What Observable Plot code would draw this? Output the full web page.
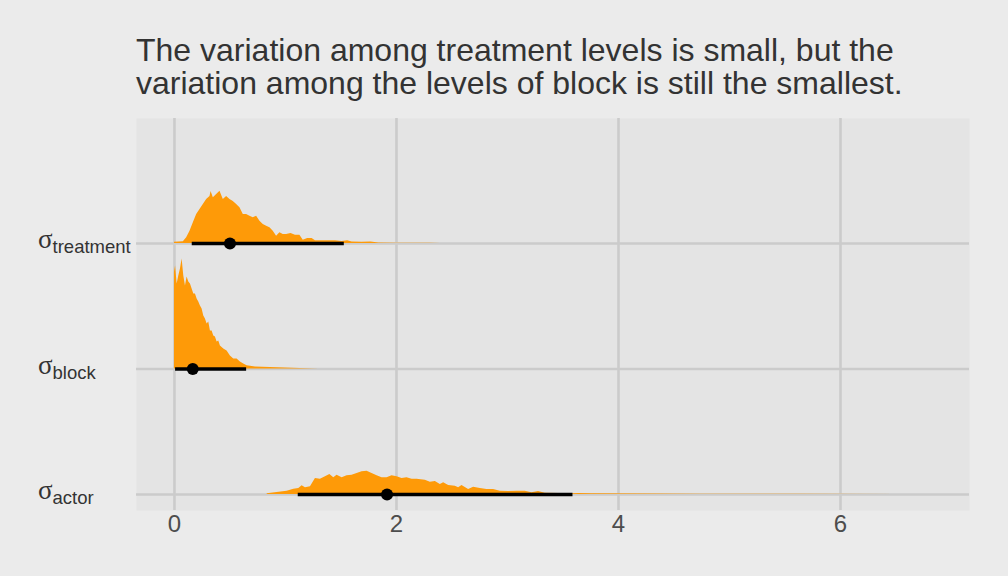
<!DOCTYPE html>
<html><head><meta charset="utf-8">
<script src="https://cdn.jsdelivr.net/npm/d3@7"></script>
<script src="https://cdn.jsdelivr.net/npm/@observablehq/plot@0.6"></script>
<style>
body{margin:0;background:#EBEBEB;width:1008px;height:576px;overflow:hidden;position:relative;font-family:"Liberation Sans",Arial,sans-serif}
#title{position:absolute;left:136px;top:34px;font-size:32px;line-height:33px;color:#333;white-space:nowrap}
#chart{position:absolute;left:0;top:110px}
</style></head><body>
<div id="title">The variation among treatment levels is small, but the<br>variation among the levels of block is still the smallest.</div>
<div id="chart"></div>
<script>
// parameters (bottom to top)
const params = ["actor", "block", "treatment"];
const rowPos = [0, 1, 2];

// density profiles (relative heights)
const treatmentX = [0.00,0.08,0.11,0.14,0.17,0.20,0.23,0.26,0.29,0.32,0.33,0.35,0.38,0.41,0.44,0.47,0.50,0.53,0.56,0.59,0.62,0.65,0.68,0.71,0.74,0.77,0.80,0.83,0.86,0.89,0.92,0.95,0.98,1.01,1.05,1.09,1.13,1.16,1.20,1.24,1.27,1.36,1.45,1.51,1.56,1.60,1.69,1.77,1.84,2.00,2.30,2.40];
const treatmentH = [1.3,1.7,5.7,12.3,20.7,29,34,39,44,47,52,45.7,49,52.3,44,47,44,42,39,35.7,29,29,27.3,25.7,27.3,22.3,19,17.3,15.7,12.3,7.3,10.7,9,9,10,8.3,8.3,3.3,5,5,2.7,2.7,2.7,2,2.7,1.5,1.3,1.5,0.5,0.3,0.2,0];

const blockX = [0.000,0.010,0.024,0.039,0.054,0.069,0.084,0.099,0.114,0.129,0.144,0.159,0.174,0.189,0.204,0.219,0.234,0.249,0.264,0.279,0.294,0.309,0.324,0.339,0.354,0.369,0.384,0.399,0.414,0.444,0.474,0.504,0.534,0.564,0.594,0.624,0.654,0.73,0.86,1.00,1.13,1.30];
const blockH = [97,103,85,93,100,110,93,83,92,87,85,80,75,75,70,67,63,60,53,50,45,47,38,38,33,32,27,28,23,20,18,13,10,10,7,5,3.3,2,1.5,1,0.5,0];

const actorX = [0.835,0.925,1.015,1.075,1.12,1.15,1.18,1.225,1.27,1.315,1.36,1.40,1.435,1.465,1.51,1.555,1.60,1.645,1.69,1.735,1.78,1.825,1.87,1.915,1.96,2.005,2.05,2.095,2.14,2.185,2.26,2.305,2.35,2.395,2.425,2.47,2.53,2.56,2.59,2.65,2.695,2.755,2.815,2.875,2.935,3.01,3.09,3.16,3.22,3.28,3.34,3.46,3.58,3.64,3.76,4.29,4.74,5.19,5.64,6.54,6.8];
const actorH = [0.7,2,3.3,5.3,6,8.7,6.7,7.7,16,15.3,17.7,20,16.7,19.3,16.7,18.7,19.3,21,22.7,23.3,21,18.7,16.7,16.7,18.7,17.7,16,16.7,15.3,15.3,14.3,12.3,13,10,11.7,9,8.3,6.7,9,5,7.3,6,5,5,3.3,3,3.3,3.3,1.7,3,1.3,1,0.7,1,0.7,0.5,0.4,0.2,0.2,0.1,0];

// point intervals: mode and interval bounds
const intervalLo   = [1.115, 0.01, 0.16];
const intervalMode = [1.915, 0.165, 0.50];
const intervalHi   = [3.59, 0.65, 1.53];

const xTicks = [0, 2, 4, 6];

const scaleK = 1 / 125.5; // relative height -> row units

const profiles = {actor: [actorX, actorH], block: [blockX, blockH], treatment: [treatmentX, treatmentH]};
const dens = [];
params.forEach((p, i) => {
  const [xs, hs] = profiles[p];
  xs.forEach((x, j) => dens.push({param: p, row: rowPos[i], x, h: hs[j]}));
});
const intervals = params.map((p, i) => ({param: p, row: rowPos[i], lo: intervalLo[i], mode: intervalMode[i], hi: intervalHi[i]}));

const orange = "#FE9A08";
const gridColor = "#CBCBCB";

const chart = Plot.plot({
  width: 1008,
  height: 466,
  marginLeft: 136,
  marginRight: 39,
  marginTop: 8,
  marginBottom: 66,
  style: {background: "transparent", color: "#4D4D4D", fontFamily: "Liberation Sans, Arial, sans-serif", overflow: "visible"},
  x: {domain: [-0.342, 7.162]},
  y: {domain: [-0.127, 2.996], axis: null},
  marks: [
    Plot.frame({fill: "#E4E4E4", stroke: null}),
    Plot.ruleX(xTicks, {stroke: gridColor, strokeWidth: 2.6}),
    Plot.ruleY(rowPos, {stroke: gridColor, strokeWidth: 2.6}),
    Plot.areaY(dens, {x: "x", y1: "row", y2: d => d.row + d.h * scaleK, z: "param", fill: orange, curve: "linear"}),
    Plot.ruleY(intervals, {y: "row", x1: "lo", x2: "hi", stroke: "black", strokeWidth: 3.5}),
    Plot.dot(intervals, {x: "mode", y: "row", r: 6, fill: "black", stroke: null}),
    Plot.axisX({ticks: xTicks, tickSize: 0, tickPadding: 4, fontSize: 24, label: null, tickFormat: d => String(d)})
  ]
});
document.getElementById("chart").appendChild(chart);

// y labels: sigma with subscript parameter name, placed with the y scale
const ys = chart.scale("y");
const svg = d3.select(chart);
params.forEach((p, i) => {
  const t = svg.append("text")
    .attr("x", 38)
    .attr("y", ys.apply(rowPos[i]) + 5)
    .attr("text-anchor", "start")
    .attr("fill", "#333");
  t.append("tspan").attr("font-family", "Liberation Serif, DejaVu Serif, serif").attr("font-size", 27).text("σ");
  t.append("tspan").attr("font-family", "Liberation Sans, Arial, sans-serif").attr("font-size", 18.5).attr("dy", 5).text(p);
});
</script>
</body></html>
